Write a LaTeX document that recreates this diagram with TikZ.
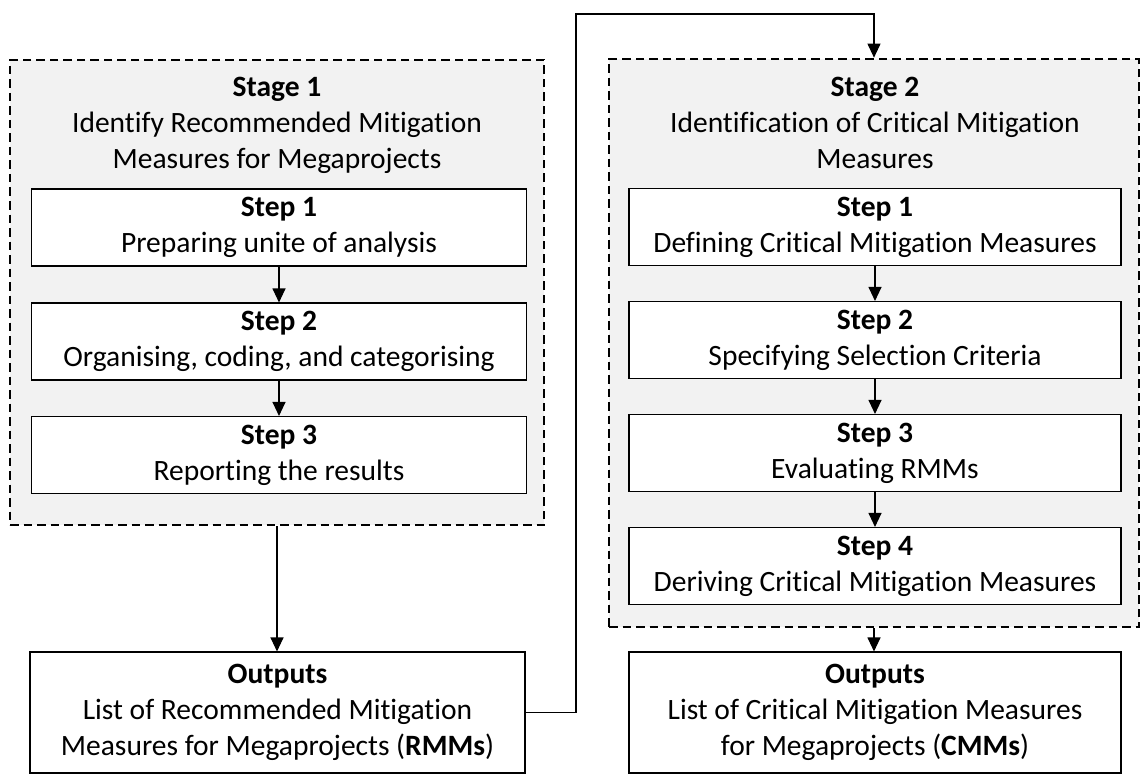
\documentclass[tikz,border=0pt]{standalone}
\usepackage{fontspec}
\setmainfont{Carlito}[Ligatures=CommonOff]
\usetikzlibrary{arrows.meta}

\definecolor{stagefill}{HTML}{F2F2F2}

\tikzset{
  stagebox/.style={draw=black, line width=2.7pt, dash pattern=on 8.5pt off 5pt,
    fill=stagefill, inner sep=0pt},
  stepbox/.style={draw=black, line width=1.1pt, fill=white, inner sep=0pt,
    align=center, minimum height=77pt},
  outbox/.style={draw=black, line width=1.1pt, fill=white, inner sep=0pt,
    align=center, minimum height=121pt},
  titletext/.style={align=center, inner sep=0pt, anchor=north},
  flow/.style={draw=black, line width=1.1pt, -{Triangle[length=14pt,width=13pt]}},
}

\begin{document}
\begin{tikzpicture}[x=1pt, y=-1pt,
  every node/.append style={font=\fontsize{29.5pt}{36pt}\selectfont}]
  \useasboundingbox (0,0) rectangle (1144,776);

  % Stage 1 frame and title
  \node[stagebox, minimum width=534pt, minimum height=465pt] (stage1) at (277,292.5) {};
  \node[titletext] (title1) at (277,77)
    {\textbf{Stage 1}\\Identify Recommended Mitigation\\Measures for Megaprojects};

  % Stage 1 steps
  \node[stepbox, minimum width=495pt] (a1) at (279,227.5)
    {\textbf{Step 1}\\Preparing unite of analysis};
  \node[stepbox, minimum width=495pt] (a2) at (279,341.5)
    {\textbf{Step 2}\\Organising, coding, and categorising};
  \node[stepbox, minimum width=495pt] (a3) at (279,455)
    {\textbf{Step 3}\\Reporting the results};

  % Stage 1 output
  \node[outbox, minimum width=495pt] (out1) at (277.5,712.5)
    {\textbf{Outputs}\\List of Recommended Mitigation\\Measures for Megaprojects (\textbf{RMMs})};

  % Stage 2 frame and title
  \node[stagebox, minimum width=530pt, minimum height=568pt] (stage2) at (874,343) {};
  \node[titletext] (title2) at (875,77)
    {\textbf{Stage 2}\\Identification of Critical Mitigation\\Measures};

  % Stage 2 steps
  \node[stepbox, minimum width=492pt] (b1) at (875,227)
    {\textbf{Step 1}\\Defining Critical Mitigation Measures};
  \node[stepbox, minimum width=492pt] (b2) at (875,340)
    {\textbf{Step 2}\\Specifying Selection Criteria};
  \node[stepbox, minimum width=492pt] (b3) at (875,453)
    {\textbf{Step 3}\\Evaluating RMMs};
  \node[stepbox, minimum width=492pt] (b4) at (875,566)
    {\textbf{Step 4}\\Deriving Critical Mitigation Measures};

  % Stage 2 output
  \node[outbox, minimum width=492pt] (out2) at (875,712.5)
    {\textbf{Outputs}\\List of Critical Mitigation Measures\\for Megaprojects (\textbf{CMMs})};

  % Flow inside the stages
  \draw[flow] (a1) -- (a2);
  \draw[flow] (a2) -- (a3);
  \draw[flow] (b1) -- (b2);
  \draw[flow] (b2) -- (b3);
  \draw[flow] (b3) -- (b4);

  % Stage results
  \draw[flow] (stage1.south) -- (stage1.south |- out1.north);
  \draw[flow] (stage2.south) -- (stage2.south |- out2.north);

  % RMMs feed into Stage 2
  \coordinate (loop) at (576,14);
  \draw[flow] (out1.east) -| (loop) -| (stage2.north);
\end{tikzpicture}
\end{document}
